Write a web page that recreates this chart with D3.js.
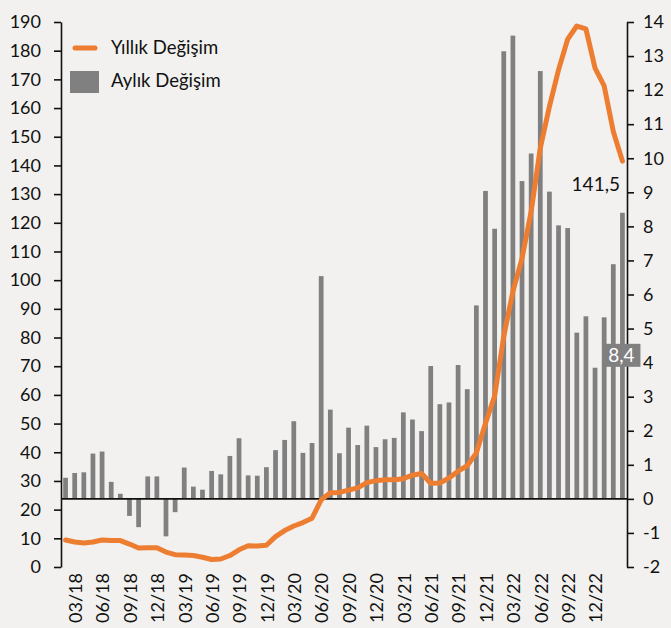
<!DOCTYPE html>
<html lang="tr">
<head>
<meta charset="UTF-8">
<title>Yıllık / Aylık Değişim</title>
<script src="https://cdn.jsdelivr.net/npm/d3@7"></script>
<style>
html,body {margin:0;padding:0;background:#f2f1ef;}
svg {display:block;}
.axis text {font-family:Lato,"Open Sans",sans-serif;font-size:18px;fill:#111;}
.axis path,.axis line {stroke:#111;stroke-width:1.6;}
.lbl {font-family:Lato,"Open Sans",sans-serif;}
</style>
</head>
<body>
<div id="chart"></div>
<script>
// aylar (02/18 - 03/23)
const months = [
	"02/18","03/18","04/18","05/18","06/18","07/18","08/18","09/18","10/18","11/18","12/18",
	"01/19","02/19","03/19","04/19","05/19","06/19","07/19","08/19","09/19","10/19","11/19","12/19",
	"01/20","02/20","03/20","04/20","05/20","06/20","07/20","08/20","09/20","10/20","11/20","12/20",
	"01/21","02/21","03/21","04/21","05/21","06/21","07/21","08/21","09/21","10/21","11/21","12/21",
	"01/22","02/22","03/22","04/22","05/22","06/22","07/22","08/22","09/22","10/22","11/22","12/22",
	"01/23","02/23","03/23"
];
const tickLabels = ["03/18","06/18","09/18","12/18","03/19","06/19","09/19","12/19","03/20","06/20",
	"09/20","12/20","03/21","06/21","09/21","12/21","03/22","06/22","09/22","12/22"];

// sol eksen: yıllık değişim (%)
const yearly = [
	9.4, 8.7, 8.4, 8.7, 9.4, 9.2, 9.2, 8.0, 6.6, 6.7, 6.7,
	5.2, 4.3, 4.2, 4.0, 3.4, 2.6, 2.8, 4.0, 6.0, 7.4, 7.3,
	7.6, 10.6, 12.7, 14.3, 15.5, 17.0, 23.4, 25.9, 26.0, 26.8, 27.6,
	29.4, 30.1, 30.4, 30.4, 30.8, 32.0, 32.6, 29.2, 29.3, 31.0, 33.4,
	35.3, 39.8, 50.1, 59.6, 80.4, 96.0, 107.6, 123.9, 146.0, 160.5, 173.3,
	184.0, 188.6, 187.6, 173.9, 167.7, 151.8, 141.5
];
// sağ eksen: aylık değişim (%)
const monthly = [
	0.62, 0.76, 0.78, 1.33, 1.39, 0.50, 0.15, -0.50, -0.83, 0.66, 0.66,
	-1.10, -0.39, 0.92, 0.36, 0.27, 0.82, 0.72, 1.26, 1.78, 0.69, 0.68,
	0.93, 1.43, 1.73, 2.28, 1.35, 1.64, 6.54, 2.62, 1.34, 2.09, 1.58,
	2.15, 1.52, 1.75, 1.79, 2.54, 2.33, 1.99, 3.90, 2.78, 2.83, 3.93,
	3.22, 5.68, 9.04, 7.93, 13.14, 13.60, 9.33, 10.14, 12.56, 9.02, 8.03,
	7.95, 4.88, 5.36, 3.85, 5.33, 6.89, 8.40
];
const leftTicks = d3.range(0, 191, 10);
const rightTicks = d3.range(-2, 15, 1);
const seriesNames = ["Yıllık Değişim", "Aylık Değişim"];

const W = 671, H = 628;
const mLeft = 61, mRight = 627, mTop = 22, mBottom = 567;
const ORANGE = "#ed7d31", GREY = "#808080";
const fmt = v => d3.format(".1f")(v).replace(".", ",");

const svg = d3.select("#chart").append("svg")
	.attr("width", W)
	.attr("height", H);

svg.append("rect").attr("width", W).attr("height", H).attr("fill", "#f2f1ef");

const x = d3.scaleBand().domain(months).range([mLeft, mRight]).paddingInner(0.48).paddingOuter(0.24);
const yL = d3.scaleLinear().domain([0, 190]).range([mBottom, mTop]);
const yR = d3.scaleLinear().domain([-2, 14]).range([mBottom, mTop]);

// bars
svg.append("g").selectAll("rect")
	.data(monthly)
	.join("rect")
	.attr("x", (d, i) => x(months[i]))
	.attr("width", x.bandwidth())
	.attr("y", d => yR(Math.max(0, d)))
	.attr("height", d => Math.abs(yR(d) - yR(0)))
	.attr("fill", GREY);

// zero line
svg.append("line")
	.attr("x1", mLeft).attr("x2", mRight)
	.attr("y1", yR(0)).attr("y2", yR(0))
	.attr("stroke", "#111").attr("stroke-width", 1.8);

// axes
svg.append("g").attr("class", "axis")
	.attr("transform", `translate(${mLeft},0)`)
	.call(d3.axisLeft(yL).tickValues(leftTicks).tickSize(7).tickSizeOuter(0).tickPadding(13));
svg.append("g").attr("class", "axis")
	.attr("transform", `translate(${mRight},0)`)
	.call(d3.axisRight(yR).tickValues(rightTicks).tickSize(7).tickSizeOuter(0).tickPadding(9)
		.tickFormat(d => String(d)));

// x labels
svg.append("g").attr("class", "axis")
	.selectAll("text")
	.data(tickLabels)
	.join("text")
	.attr("transform", d => `translate(${x(d) + x.bandwidth() / 2 + 1},573) rotate(-90)`)
	.attr("text-anchor", "end")
	.attr("dy", "0.35em")
	.text(d => d);

// yearly line
const line = d3.line()
	.x((d, i) => x(months[i]) + x.bandwidth() / 2)
	.y(d => yL(d));
svg.append("path")
	.datum(yearly)
	.attr("d", line)
	.attr("fill", "none")
	.attr("stroke", ORANGE)
	.attr("stroke-width", 5)
	.attr("stroke-linejoin", "round")
	.attr("stroke-linecap", "round");

// son deger etiketleri
const last = months.length - 1;
svg.append("text").attr("class", "lbl")
	.attr("x", 620).attr("y", yL(yearly[last]) + 30)
	.attr("text-anchor", "end")
	.attr("font-size", 19)
	.attr("fill", "#111")
	.text(fmt(yearly[last]));

const bx = x(months[last]) + x.bandwidth() / 2;
const by = (yR(monthly[last]) + yR(0)) / 2;
svg.append("rect")
	.attr("x", bx - 20).attr("y", by - 12)
	.attr("width", 38).attr("height", 23)
	.attr("fill", GREY);
svg.append("text").attr("class", "lbl")
	.attr("x", bx - 1).attr("y", by)
	.attr("dy", "0.35em")
	.attr("text-anchor", "middle")
	.attr("font-size", 19)
	.attr("fill", "#fff")
	.text(fmt(monthly[last]));

// legend
const lg = svg.append("g");
lg.append("line")
	.attr("x1", 75).attr("x2", 95).attr("y1", 48).attr("y2", 48)
	.attr("stroke", ORANGE).attr("stroke-width", 5).attr("stroke-linecap", "round");
lg.append("rect")
	.attr("x", 70).attr("y", 71).attr("width", 29).attr("height", 22)
	.attr("fill", GREY);
lg.selectAll("text")
	.data(seriesNames)
	.join("text").attr("class", "lbl")
	.attr("x", 111)
	.attr("y", (d, i) => 48 + i * 33)
	.attr("dy", "0.35em")
	.attr("font-size", 18.5)
	.attr("fill", "#111")
	.text(d => d);
</script>
</body>
</html>
